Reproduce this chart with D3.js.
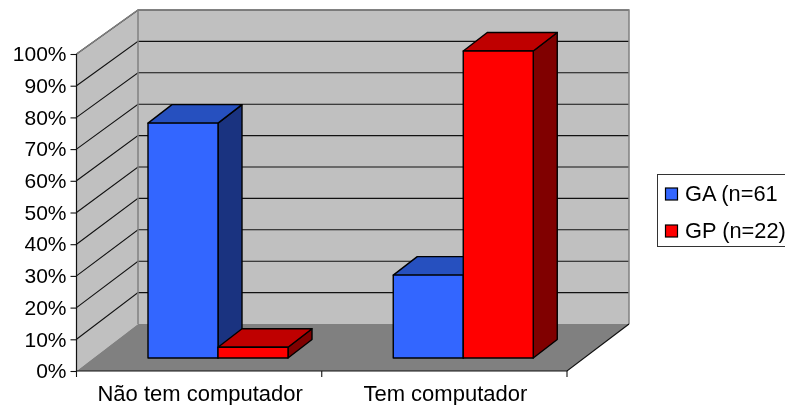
<!DOCTYPE html>
<html><head><meta charset="utf-8">
<script src="https://cdn.jsdelivr.net/npm/d3@7"></script>
<style>html,body{margin:0;padding:0;background:#fff;overflow:hidden}svg{display:block;filter:blur(0.35px)}text{font-family:"Liberation Sans",Arial,sans-serif;fill:#000}</style>
</head><body><svg id="c" width="785" height="405"></svg>
<script>
const categories = ["Não tem computador", "Tem computador"];
const seriesNames = ["GA (n=61", "GP (n=22)"];
const gaValues = [76.5, 27];
const gpValues = [3.5, 100];
const yTicks = [0,10,20,30,40,50,60,70,80,90,100];
const faceColors = {
  GA: {front:"#3366FF", top:"#2650BF", side:"#1A3380"},
  GP: {front:"#FF0000", top:"#BF0000", side:"#800000"}
};
const tickFontSize = 21, labelFontSize = 22, legendFontSize = 21.8;

const svg = d3.select("#c");
const line = d3.line();
const xAxisScale = d3.scaleBand().domain(categories).range([76.5,567]);
const yFront = d3.scaleLinear().domain([0,100]).range([371,54]);
const yBack = d3.scaleLinear().domain([0,100]).range([324,10]);
const yBar = d3.scaleLinear().domain([0,100]).range([358,51]);
const backDx = 61.5, backRight = 629;
const xBack = v => v + backDx;
const groupOffset = 71.5;
const xSeries = d3.scaleBand().domain(["GA","GP"]).range([0,140]);
const depth = {x:24, y:-18.5};
const poly = (pts,fill,stroke,sw) => svg.append("path").attr("d",line(pts)+"Z")
  .attr("fill",fill).attr("stroke",stroke||"none").attr("stroke-width",sw||0).attr("stroke-linejoin","round");

// walls and floor
poly([[76.5,yFront(0)],[76.5,yFront(100)],[xBack(76.5),yBack(100)],[xBack(76.5),yBack(0)]],"#C0C0C0");
poly([[xBack(76.5),yBack(0)],[xBack(76.5),yBack(100)],[backRight,yBack(100)],[backRight,yBack(0)]],"#C0C0C0");
poly([[76.5,yFront(0)],[xBack(76.5),yBack(0)],[backRight,yBack(0)],[567,yFront(0)]],"#808080");

// gridlines
yTicks.filter(t=>t>0).forEach(t=>{
  svg.append("path").attr("d",line([[76.5,yFront(t)],[xBack(76.5),yBack(t)],[backRight,yBack(t)]]))
    .attr("fill","none").attr("stroke","#111").attr("stroke-width",1.1);
});
// wall edges
svg.append("path").attr("d",line([[76.5,yFront(100)],[xBack(76.5),yBack(100)],[backRight,yBack(100)],[backRight,yBack(0)]]))
  .attr("fill","none").attr("stroke","#808080").attr("stroke-width",1.5);
svg.append("path").attr("d",line([[xBack(76.5),yBack(100)],[xBack(76.5),yBack(0)]]))
  .attr("fill","none").attr("stroke","#808080").attr("stroke-width",1.5);

// bars
categories.forEach((cat,i)=>{
  [["GA",gaValues[i]],["GP",gpValues[i]]].forEach(([s,v])=>{
    const x0 = xAxisScale(cat)+groupOffset+xSeries(s), x1 = x0+xSeries.bandwidth();
    const yT = yBar(v), yB = yBar(0), c = faceColors[s], k="#000", w=1.4;
    poly([[x1,yT],[x1+depth.x,yT+depth.y],[x1+depth.x,yB+depth.y],[x1,yB]],c.side,k,w);
    poly([[x0,yT],[x0+depth.x,yT+depth.y],[x1+depth.x,yT+depth.y],[x1,yT]],c.top,k,w);
    poly([[x0,yT],[x1,yT],[x1,yB],[x0,yB]],c.front,k,w);
  });
});

// axes
svg.append("path").attr("d",line([[76.5,yFront(100)],[76.5,yFront(0)],[567,yFront(0)],[backRight,yBack(0)]]))
  .attr("fill","none").attr("stroke","#111").attr("stroke-width",1.2);
const yG = svg.append("g").attr("transform","translate(76.5,0)")
  .call(d3.axisLeft(yFront).tickValues(yTicks).tickSize(6).tickPadding(4).tickFormat(d=>d+"%"));
yG.select(".domain").remove();
yG.selectAll("line").attr("stroke","#111").attr("stroke-width",1.1);
yG.selectAll("text").attr("font-size",tickFontSize).attr("fill","#000");
const xTicks = [xAxisScale(categories[0]),xAxisScale(categories[1]),567];
xTicks.forEach(x=>svg.append("line").attr("x1",x).attr("x2",x).attr("y1",371).attr("y2",377).attr("stroke","#111").attr("stroke-width",1.1));
categories.forEach(cat=>svg.append("text").attr("x",xAxisScale(cat)+xAxisScale.bandwidth()/2+1).attr("y",401)
  .attr("text-anchor","middle").attr("font-size",labelFontSize).text(cat));

// legend
svg.append("rect").attr("x",657.5).attr("y",174.5).attr("width",140).attr("height",72)
  .attr("fill","#fff").attr("stroke","#333").attr("stroke-width",1);
[["GA",194],["GP",231]].forEach(([s,yc],i)=>{
  svg.append("rect").attr("x",665.5).attr("y",yc-6).attr("width",12).attr("height",12)
    .attr("fill",faceColors[s].front).attr("stroke","#000").attr("stroke-width",1.2);
  svg.append("text").attr("x",685).attr("y",yc+7).attr("font-size",legendFontSize).text(seriesNames[i]);
});
</script></body></html>
